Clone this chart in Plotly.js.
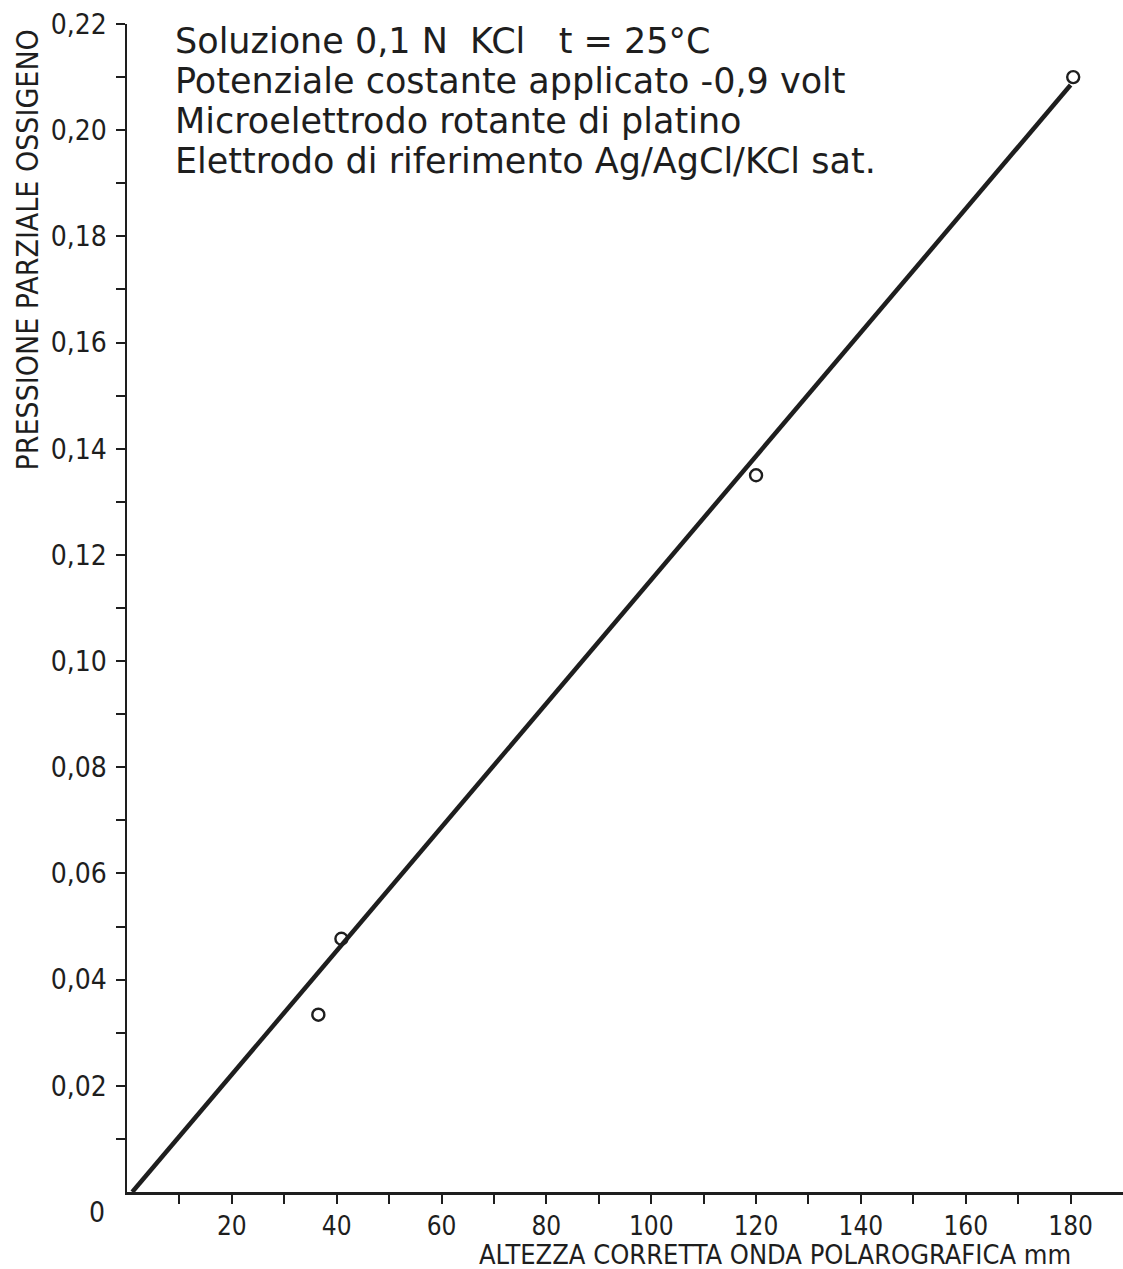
<!DOCTYPE html>
<html>
<head>
<meta charset="utf-8">
<script src="https://cdn.plot.ly/plotly-3.0.1.min.js"></script>
<style>html,body{margin:0;padding:0;background:#fff;}#chart{width:1123px;height:1269px;}</style>
</head>
<body>
<div id="chart"></div>
<script>
// Measured points: corrected polarographic wave height (mm) vs O2 partial pressure
const heightMm = [36.5, 40.9, 120.0, 180.5];
const pressureO2 = [0.0334, 0.0477, 0.135, 0.210];
// Calibration line drawn through the origin
const fitX = [1, 180];
const fitY = [0, 0.2085];

const xTickVals = [10,20,30,40,50,60,70,80,90,100,110,120,130,140,150,160,170,180];
const xTickText = ["","20","","40","","60","","80","","100","","120","","140","","160","","180"];
const yTickVals = [0.01,0.02,0.03,0.04,0.05,0.06,0.07,0.08,0.09,0.10,0.11,0.12,0.13,0.14,0.15,0.16,0.17,0.18,0.19,0.20,0.21,0.22];
const yTickText = ["","0,02","","0,04","","0,06","","0,08","","0,10","","0,12","","0,14","","0,16","","0,18","","0,20","","0,22"];

const infoLines = [
  "Soluzione 0,1 N  KCl   t = 25°C",
  "Potenziale costante applicato -0,9 volt",
  "Microelettrodo rotante di platino",
  "Elettrodo di riferimento Ag/AgCl/KCl sat."
];
const xTitle = "ALTEZZA CORRETTA ONDA POLAROGRAFICA mm";
const yTitle = "PRESSIONE PARZIALE OSSIGENO";

const FONT = "DejaVu Sans Condensed, Roboto, sans-serif";
const FONT_INFO = "DejaVu Sans, sans-serif";
const INK = "#1e1e1e";

const traces = [
  {x: fitX, y: fitY, mode: "lines", type: "scatter",
   line: {color: INK, width: 4.5}, hoverinfo: "skip", showlegend: false},
  {x: heightMm, y: pressureO2, mode: "markers", type: "scatter",
   marker: {symbol: "circle-open", size: 12, color: INK, line: {width: 2.4, color: INK}},
   showlegend: false}
];

const annotations = [
  {x: 0, y: 0, xref: "x", yref: "y", text: "0", showarrow: false,
   xanchor: "right", yanchor: "top", xshift: -20, yshift: -2,
   font: {family: FONT, size: 28, color: INK}},
  {x: 180, y: 0, xref: "x", yref: "paper", text: xTitle, showarrow: false,
   xanchor: "right", yanchor: "middle", yshift: -62, xshift: 2,
   font: {family: FONT, size: 27, color: INK}},
  {x: 0, y: 1, xref: "paper", yref: "paper", text: yTitle, showarrow: false,
   textangle: -90, xanchor: "center", yanchor: "top", xshift: -100, yshift: -4,
   font: {family: FONT, size: 30, color: INK}}
];
infoLines.forEach(function (line, i) {
  annotations.push({
    x: 0, y: 1, xref: "paper", yref: "paper", text: line,
    showarrow: false, align: "left", xanchor: "left", yanchor: "middle",
    xshift: 46, yshift: -17 - 40 * i,
    font: {family: FONT_INFO, size: 35, color: INK}
  });
});

const layout = {
  width: 1123, height: 1269,
  paper_bgcolor: "#ffffff", plot_bgcolor: "#ffffff",
  margin: {l: 127, r: 0, t: 24, b: 77},
  font: {family: FONT, color: INK, size: 26},
  showlegend: false,
  xaxis: {
    range: [0, 190], showgrid: false, zeroline: false,
    showline: true, linecolor: INK, linewidth: 2.5,
    ticks: "outside", ticklen: 9, tickwidth: 2, tickcolor: INK,
    tickmode: "array", tickvals: xTickVals, ticktext: xTickText,
    tickfont: {family: FONT, size: 26, color: INK},
    ticklabelstandoff: 0
  },
  yaxis: {
    range: [0, 0.22], showgrid: false, zeroline: false,
    showline: true, linecolor: INK, linewidth: 2.5,
    ticks: "outside", ticklen: 9, tickwidth: 2, tickcolor: INK,
    tickmode: "array", tickvals: yTickVals, ticktext: yTickText,
    tickfont: {family: FONT, size: 28, color: INK},
    ticklabelstandoff: 3
  },
  annotations: annotations
};

Plotly.newPlot("chart", traces, layout, {staticPlot: true, displayModeBar: false});
</script>
</body>
</html>
